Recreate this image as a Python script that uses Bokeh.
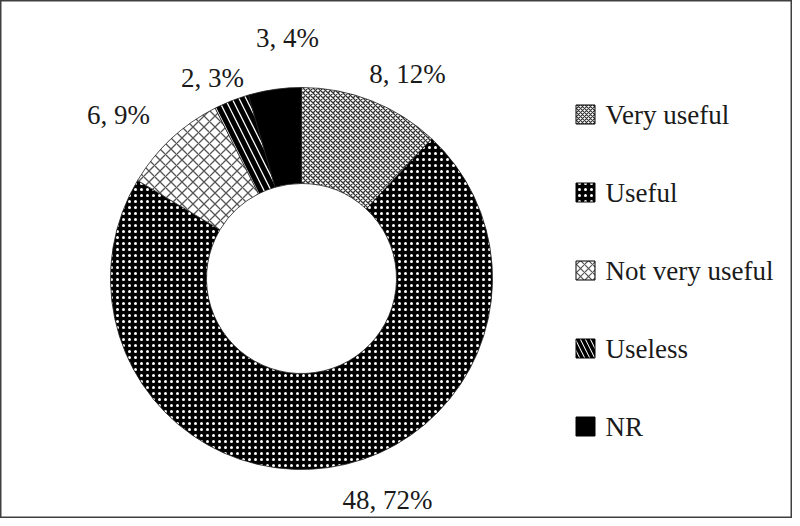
from bokeh.plotting import figure
from bokeh.models import Range1d, ColumnDataSource
from bokeh.core.properties import value
from bokeh.embed import file_html
from bokeh.resources import INLINE
import math

# ---- data ----
categories = ["Very useful", "Useful", "Not very useful", "Useless", "NR"]
counts = [8, 48, 6, 2, 3]
percents = [12, 72, 9, 3, 4]

# ---- styles ----
fills = ["white", "black", "white", "white", "black"]
hatches = ["diagonal_cross", "dot", "diagonal_cross", "left_diagonal_line", " "]
hatch_colors = ["#333333", "white", "#555555", "black", "black"]
hatch_scales = [5, 6, 11, 14, 1]
hatch_weights = [1.3, 1.6, 1.3, 5, 1]

W, H = 792, 518
FONT = "Liberation Serif"

p = figure(width=W, height=H, output_backend="svg", toolbar_location=None,
           x_range=Range1d(0, W), y_range=Range1d(0, H), min_border=0)
p.axis.visible = False
p.grid.visible = False
p.outline_line_color = "#404040"
p.outline_line_width = 2
p.background_fill_color = "white"
p.border_fill_color = "white"

# donut geometry (pixel-like data units)
cx, cy = 301, 240
r_out, r_in = 191, 95

total = sum(counts)
starts, ends = [], []
a = math.pi / 2
for c in counts:
    starts.append(a)
    a = a - 2 * math.pi * c / total
    ends.append(a)

src = ColumnDataSource(dict(
    x=[cx] * len(counts), y=[cy] * len(counts),
    start=starts, end=ends, fill=fills, hatch=hatches,
    hcol=hatch_colors, hscale=hatch_scales, hweight=hatch_weights,
))
p.annular_wedge(x="x", y="y", inner_radius=r_in, outer_radius=r_out,
                start_angle="start", end_angle="end", direction="clock",
                fill_color="fill", hatch_pattern="hatch", hatch_color="hcol",
                hatch_scale="hscale", hatch_weight="hweight",
                line_color="#222222", line_width=0.8, source=src)

# data labels (layout: page-pixel centers)
label_pos = [(415, 81), (395, 507), (126, 122), (220, 85), (295, 45)]
lab = ColumnDataSource(dict(
    x=[q[0] - 8 for q in label_pos],
    y=[H - (q[1] - 8) for q in label_pos],
    t=[f"{c}, {pc}%" for c, pc in zip(counts, percents)],
))
p.text(x="x", y="y", text="t", source=lab, text_font=value(FONT),
       text_font_size="27px", text_align="center", text_baseline="middle",
       text_color="#1a1a1a")

# legend
leg_x_sq = 593 - 8
leg_x_txt = 613 - 8
leg_y = [122, 200, 278, 356, 434]
lsrc = ColumnDataSource(dict(
    x=[leg_x_sq] * 5, y=[H - (v - 8) for v in leg_y],
    tx=[leg_x_txt] * 5, t=categories, fill=fills, hatch=hatches,
    hcol=hatch_colors, hscale=[4, 6, 8, 10, 1],
    hweight=[1.2, 1.6, 1.2, 3.5, 1],
))
p.rect(x="x", y="y", width=19, height=19, source=lsrc, fill_color="fill",
       hatch_pattern="hatch", hatch_color="hcol", hatch_scale="hscale",
       hatch_weight="hweight", line_color="black", line_width=1)
p.text(x="tx", y="y", text="t", source=lsrc, text_font=value(FONT),
       text_font_size="27px", text_align="left", text_baseline="middle",
       text_color="#1a1a1a")

open("out.html", "w").write(file_html(p, INLINE))
